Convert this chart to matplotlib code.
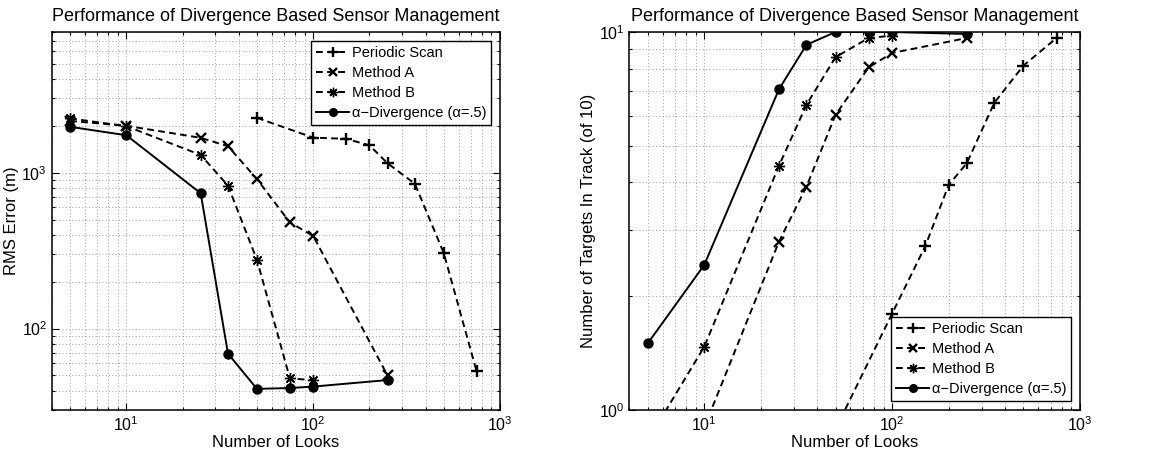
import matplotlib
matplotlib.use("Agg")
import matplotlib.pyplot as plt
from matplotlib.ticker import LogLocator, NullFormatter

plt.rcParams['font.family'] = ['Liberation Sans', 'DejaVu Sans']
plt.rcParams['mathtext.default'] = 'regular'

# RMS error vs number of looks
looks_scan = [50, 100, 150, 200, 250, 350, 500, 750]
rms_scan = [2250, 1680, 1650, 1500, 1150, 850, 305, 53]
looks_alg = [5, 10, 25, 35, 50, 75, 100, 250]
rms_a = [2150, 2000, 1675, 1480, 910, 480, 393, 50]
looks_b = [5, 10, 25, 35, 50, 75, 100]
rms_b = [2230, 1990, 1300, 826, 276, 48, 46.5]
rms_div = [1970, 1740, 738, 69, 41, 41.5, 42.4, 46.7]

# Targets in track vs number of looks
trk_scan = [0.89, 1.80, 2.71, 3.94, 4.5, 6.5, 8.15, 9.64]
looks_a_trk = [10, 25, 35, 50, 75, 100, 250]
trk_a = [0.9, 2.79, 3.9, 6.04, 8.06, 8.8, 9.64]
trk_b = [0.83, 1.47, 4.43, 6.42, 8.58, 9.64, 9.78]
looks_b_trk = [5, 10, 25, 35, 50, 75, 100]
trk_div = [1.50, 2.42, 7.06, 9.25, 10.0, 10.0, 10.0, 9.88]

labels = ['Periodic Scan', 'Method A', 'Method B', 'α−Divergence (α=.5)']
title = 'Performance of Divergence Based Sensor Management'

fig = plt.figure(figsize=(11.54, 4.59), dpi=100)
ax1 = fig.add_axes([52/1154, 49/459, 448/1154, 378/459])
ax2 = fig.add_axes([629.5/1154, 49/459, 450.5/1154, 378/459])

dash = (0, (3.5, 2.2))
lw = 1.4
asterisk = (8, 2, 0)
edge_w = {'+': 1.7, 'x': 1.7, 'o': 1.0}


def draw(ax, series):
    for (x, y, m, ls, ms), lab in zip(series, labels):
        ax.plot(x, y, linestyle=ls, marker=m, color='black', lw=lw,
                markersize=ms, markeredgewidth=edge_w.get(m, 1.0),
                label=lab)


draw(ax1, [
    (looks_scan, rms_scan, '+', dash, 8.5),
    (looks_alg, rms_a, 'x', dash, 6.5),
    (looks_b, rms_b, asterisk, dash, 8),
    (looks_alg, rms_div, 'o', '-', 6.5),
])
draw(ax2, [
    (looks_scan, trk_scan, '+', dash, 8.5),
    (looks_a_trk, trk_a, 'x', dash, 6.5),
    (looks_b_trk, trk_b, asterisk, dash, 8),
    (looks_alg, trk_div, 'o', '-', 6.5),
])

for ax in (ax1, ax2):
    ax.set_xscale('log')
    ax.set_yscale('log')
    ax.set_xlim(4, 1000)
    ax.xaxis.set_major_locator(LogLocator(base=10, numticks=10))
    ax.xaxis.set_minor_locator(LogLocator(base=10, subs=range(2, 10), numticks=20))
    ax.xaxis.set_minor_formatter(NullFormatter())
    ax.yaxis.set_minor_formatter(NullFormatter())
    ax.grid(True, which='both', linestyle=(0, (1, 3)), color='0.5', linewidth=0.6)
    ax.tick_params(which='both', direction='in', top=True, right=True,
                   labelsize=11.5, width=0.8)
    ax.tick_params(which='major', length=5)
    ax.tick_params(which='minor', length=2.5)
    for sp in ax.spines.values():
        sp.set_linewidth(1.1)
    ax.set_xlabel('Number of Looks', fontsize=12, labelpad=1)
    ax.set_title(title, fontsize=13, pad=8)

ax1.set_ylim(30, 8000)
ax1.set_ylabel('RMS Error (m)', fontsize=12, labelpad=2)
ax2.set_ylim(1, 10)
ax2.set_ylabel('Number of Targets In Track (of 10)', fontsize=12, labelpad=2)

leg_kw = dict(fontsize=10.5, fancybox=False, edgecolor='black', framealpha=1,
              handlelength=2.3, handletextpad=0.15, borderpad=0.35,
              labelspacing=0.42, borderaxespad=0.6, markerscale=0.85)
l1 = ax1.legend(loc='upper right', **leg_kw)
l2 = ax2.legend(loc='lower right', **leg_kw)
for l in (l1, l2):
    l.get_frame().set_linewidth(1.0)

fig.savefig('out.png', dpi=100)
